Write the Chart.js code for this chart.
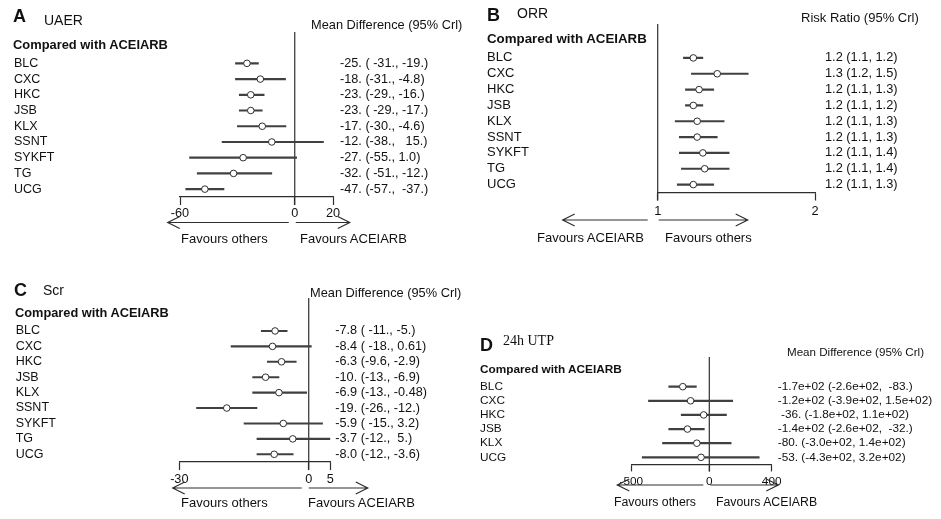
<!DOCTYPE html>
<html>
<head>
<meta charset="utf-8">
<script src="https://cdn.jsdelivr.net/npm/chart.js@4.4.1/dist/chart.umd.min.js"></script>
<style>
  body { margin: 0; background: #fff; }
  #fig { position: relative; width: 941px; height: 519px; overflow: hidden;
         font-family: "Liberation Sans", Arial, sans-serif; color: #111; }
  .panel { position: absolute; }
  .t { position: absolute; white-space: pre; line-height: 1; }
  .big { font-weight: bold; font-size: 18px; }
  .ttl { font-size: 14px; }
  .cmp { font-weight: bold; }
  .serif { font-family: "Liberation Serif", "DejaVu Serif", serif; }
</style>
</head>
<body>
<div id="fig">
  <canvas id="chartA" class="panel" style="left:0;top:0" width="470" height="250"></canvas>
  <canvas id="chartB" class="panel" style="left:470px;top:0" width="471" height="250"></canvas>
  <canvas id="chartC" class="panel" style="left:0;top:270px" width="470" height="249"></canvas>
  <canvas id="chartD" class="panel" style="left:470px;top:320px" width="471" height="199"></canvas>

  <!-- A -->
  <div class="t big" style="left:13px;top:7px">A</div>
  <div class="t ttl" style="left:44px;top:13px">UAER</div>
  <div class="t" style="left:311px;top:18.5px;font-size:12.8px">Mean Difference (95% Crl)</div>
  <div class="t cmp" style="left:13px;top:38.5px;font-size:12.9px">Compared with ACEIARB</div>
  <div class="t" style="left:181px;top:231.5px;font-size:13px">Favours others</div>
  <div class="t" style="left:300px;top:231.5px;font-size:13px">Favours ACEIARB</div>

  <!-- B -->
  <div class="t big" style="left:487px;top:6px">B</div>
  <div class="t ttl" style="left:517px;top:6px">ORR</div>
  <div class="t" style="left:801px;top:10.5px;font-size:13px">Risk Ratio (95% Crl)</div>
  <div class="t cmp" style="left:487px;top:31.5px;font-size:13.3px">Compared with ACEIARB</div>
  <div class="t" style="left:537px;top:230.5px;font-size:13px">Favours ACEIARB</div>
  <div class="t" style="left:665px;top:230.5px;font-size:13px">Favours others</div>

  <!-- C -->
  <div class="t big" style="left:14px;top:281px">C</div>
  <div class="t ttl" style="left:43px;top:283px">Scr</div>
  <div class="t" style="left:310px;top:286.5px;font-size:12.8px">Mean Difference (95% Crl)</div>
  <div class="t cmp" style="left:15px;top:306.5px;font-size:12.8px">Compared with ACEIARB</div>
  <div class="t" style="left:181px;top:495.5px;font-size:13px">Favours others</div>
  <div class="t" style="left:308px;top:495.5px;font-size:13px">Favours ACEIARB</div>

  <!-- D -->
  <div class="t big" style="left:480px;top:336px">D</div>
  <div class="t ttl serif" style="left:503px;top:334px">24h UTP</div>
  <div class="t" style="left:787px;top:346px;font-size:11.6px">Mean Difference (95% Crl)</div>
  <div class="t cmp" style="left:480px;top:364px;font-size:11.8px">Compared with ACEIARB</div>
  <div class="t" style="left:614px;top:496px;font-size:12.3px">Favours others</div>
  <div class="t" style="left:716px;top:496px;font-size:12.3px">Favours ACEIARB</div>
</div>

<script>
// ---- A: UAER, mean difference ----
const uaerLabels = ['BLC', 'CXC', 'HKC', 'JSB', 'KLX', 'SSNT', 'SYKFT', 'TG', 'UCG'];
const uaerMean = [-25, -18, -23, -23, -17, -12, -27, -32, -47];
const uaerLow  = [-31, -31, -29, -29, -30, -38, -55, -51, -57];
const uaerHigh = [-19, -4.8, -16, -17, -4.6, 15, 1.0, -12, -37];
const uaerText = ['-25. ( -31., -19.)', '-18. (-31., -4.8)', '-23. (-29., -16.)', '-23. ( -29., -17.)',
                  '-17. (-30., -4.6)', '-12. (-38.,   15.)', '-27. (-55., 1.0)', '-32. ( -51., -12.)',
                  '-47. (-57.,  -37.)'];
const uaerTicks = [-60, 0, 20];

// ---- B: ORR, risk ratio (log axis) ----
const orrLabels = ['BLC', 'CXC', 'HKC', 'JSB', 'KLX', 'SSNT', 'SYKFT', 'TG', 'UCG'];
const orrMean = [1.17, 1.30, 1.20, 1.17, 1.19, 1.19, 1.22, 1.23, 1.17];
const orrLow  = [1.12, 1.16, 1.13, 1.13, 1.08, 1.10, 1.10, 1.11, 1.09];
const orrHigh = [1.22, 1.49, 1.28, 1.22, 1.34, 1.30, 1.37, 1.37, 1.28];
const orrText = ['1.2 (1.1, 1.2)', '1.3 (1.2, 1.5)', '1.2 (1.1, 1.3)', '1.2 (1.1, 1.2)', '1.2 (1.1, 1.3)',
                 '1.2 (1.1, 1.3)', '1.2 (1.1, 1.4)', '1.2 (1.1, 1.4)', '1.2 (1.1, 1.3)'];
const orrTicks = [1, 2];

// ---- C: Scr, mean difference ----
const scrLabels = ['BLC', 'CXC', 'HKC', 'JSB', 'KLX', 'SSNT', 'SYKFT', 'TG', 'UCG'];
const scrMean = [-7.8, -8.4, -6.3, -10, -6.9, -19, -5.9, -3.7, -8.0];
const scrLow  = [-11, -18, -9.6, -13, -13, -26, -15, -12, -12];
const scrHigh = [-5, 0.61, -2.9, -6.9, -0.48, -12, 3.2, 5, -3.6];
const scrText = ['-7.8 ( -11., -5.)', '-8.4 ( -18., 0.61)', '-6.3 (-9.6, -2.9)', '-10. (-13., -6.9)',
                 '-6.9 (-13., -0.48)', '-19. (-26., -12.)', '-5.9 ( -15., 3.2)', '-3.7 (-12.,  5.)',
                 '-8.0 (-12., -3.6)'];
const scrTicks = [-30, 0, 5];

// ---- D: 24h UTP, mean difference ----
const utpLabels = ['BLC', 'CXC', 'HKC', 'JSB', 'KLX', 'UCG'];
const utpMean = [-170, -120, -36, -140, -80, -53];
const utpLow  = [-260, -390, -180, -260, -300, -430];
const utpHigh = [-83, 150, 110, -32, 140, 320];
const utpText = ['-1.7e+02 (-2.6e+02,  -83.)', '-1.2e+02 (-3.9e+02, 1.5e+02)', ' -36. (-1.8e+02, 1.1e+02)',
                 '-1.4e+02 (-2.6e+02,  -32.)', '-80. (-3.0e+02, 1.4e+02)', '-53. (-4.3e+02, 3.2e+02)'];
const utpTicks = [-500, 0, 400];

const INK = '#2e2e2e';
const BAR = '#404040';
const FONT = '"Liberation Sans", Arial, sans-serif';

function arrow(ctx, from, to, y) {
  const dir = Math.sign(to - from);
  ctx.beginPath();
  ctx.moveTo(from, y);
  ctx.lineTo(to, y);
  ctx.moveTo(to - dir * 12, y - 6);
  ctx.lineTo(to, y);
  ctx.lineTo(to - dir * 12, y + 6);
  ctx.stroke();
}

// 基準線と矢印
const forestDecor = {
  id: 'forestDecor',
  beforeDatasetsDraw(chart, args, opts) {
    const { ctx, chartArea } = chart;
    const x0 = chart.scales.x.getPixelForValue(opts.ref);
    ctx.save();
    ctx.strokeStyle = INK;
    ctx.lineWidth = 1.2;
    ctx.beginPath();
    ctx.moveTo(x0, chartArea.top - opts.lineUp);
    ctx.lineTo(x0, chartArea.bottom + opts.tick);
    ctx.stroke();
    const y = chartArea.bottom + opts.arrowDy;
    arrow(ctx, x0 - opts.left[0], x0 - opts.left[1], y);
    arrow(ctx, x0 + opts.right[0], x0 + opts.right[1], y);
    ctx.restore();
  }
};

function forest(id, p) {
  const font = { family: FONT, size: p.size };
  return new Chart(document.getElementById(id), {
    type: 'bar',
    data: {
      labels: p.labels,
      datasets: [
        {
          type: 'bar', indexAxis: 'y', yAxisID: 'y', xAxisID: 'x',
          data: p.low.map((v, i) => [v, p.high[i]]),
          backgroundColor: BAR, borderWidth: 0, barThickness: 1.5, grouped: false, order: 2
        },
        {
          type: 'line', indexAxis: 'y', yAxisID: 'y', xAxisID: 'x',
          data: p.mean, showLine: false,
          pointStyle: 'circle', pointRadius: 3.3, pointBorderWidth: 1,
          pointBackgroundColor: '#fff', pointBorderColor: INK, order: 1
        }
      ]
    },
    options: {
      indexAxis: 'y',
      responsive: false,
      animation: false,
      events: [],
      layout: { padding: { top: p.top, left: p.padLeft, right: 0, bottom: 0 } },
      plugins: {
        legend: { display: false },
        tooltip: { enabled: false },
        forestDecor: p.decor
      },
      scales: {
        x: {
          type: p.xType, min: p.ticks[0], max: p.ticks[p.ticks.length - 1],
          afterBuildTicks: s => { s.ticks = p.ticks.map(v => ({ value: v })); },
          afterFit: s => { s.height = p.xHeight; },
          grid: { drawOnChartArea: false, drawTicks: true, tickLength: p.decor.tick, tickColor: INK, tickWidth: 1.2 },
          border: { display: true, color: INK, width: 1.2 },
          ticks: { autoSkip: false, maxRotation: 0, padding: p.tickPad, color: '#111', font,
                   callback: v => String(v) }
        },
        y: {
          type: 'category', offset: true,
          afterFit: s => { s.width = p.leftW; },
          grid: { display: false, drawTicks: false }, border: { display: false },
          ticks: { autoSkip: false, crossAlign: 'far', color: '#111', font: { family: FONT, size: p.rowSize } }
        },
        yR: {
          type: 'category', position: 'right', offset: true,
          labels: p.text, min: 0, max: p.text.length - 1,
          afterFit: s => { s.width = p.rightW; },
          grid: { display: false, drawTicks: false }, border: { display: false },
          ticks: { autoSkip: false, crossAlign: 'near', padding: p.textPad, color: '#111', font }
        }
      }
    },
    plugins: [forestDecor]
  });
}

forest('chartA', {
  labels: uaerLabels, mean: uaerMean, low: uaerLow, high: uaerHigh, text: uaerText, ticks: uaerTicks,
  xType: 'linear', size: 12.7, rowSize: 12.5,
  top: 55.5, padLeft: 14, leftW: 166, rightW: 137, xHeight: 53, tickPad: 1, textPad: 7,
  decor: { ref: 0, lineUp: 23.5, tick: 8, arrowDy: 25.5, left: [6, 127], right: [1, 55] }
});

forest('chartB', {
  labels: orrLabels, mean: orrMean, low: orrLow, high: orrHigh, text: orrText, ticks: orrTicks,
  xType: 'logarithmic', size: 12.8, rowSize: 13,
  top: 50, padLeft: 17, leftW: 170.7, rightW: 126, xHeight: 57.5, tickPad: 3, textPad: 10,
  decor: { ref: 1, lineUp: 26, tick: 8, arrowDy: 27.5, left: [10, 95], right: [1, 90] }
});

forest('chartC', {
  labels: scrLabels, mean: scrMean, low: scrLow, high: scrHigh, text: scrText, ticks: scrTicks,
  xType: 'linear', size: 12.7, rowSize: 12.5,
  top: 53.25, padLeft: 15.7, leftW: 163.6, rightW: 139.7, xHeight: 57, tickPad: 2, textPad: 5,
  decor: { ref: 0, lineUp: 25.25, tick: 8, arrowDy: 26, left: [7, 136], right: [0, 59] }
});

forest('chartD', {
  labels: utpLabels, mean: utpMean, low: utpLow, high: utpHigh, text: utpText, ticks: utpTicks,
  xType: 'linear', size: 11.8, rowSize: 11.8,
  top: 59.6, padLeft: 10, leftW: 151.3, rightW: 169.3, xHeight: 54.6, tickPad: 3, textPad: 6,
  decor: { ref: 0, lineUp: 22.6, tick: 7, arrowDy: 20.6, left: [6, 92], right: [1, 69] }
});
</script>
</body>
</html>
